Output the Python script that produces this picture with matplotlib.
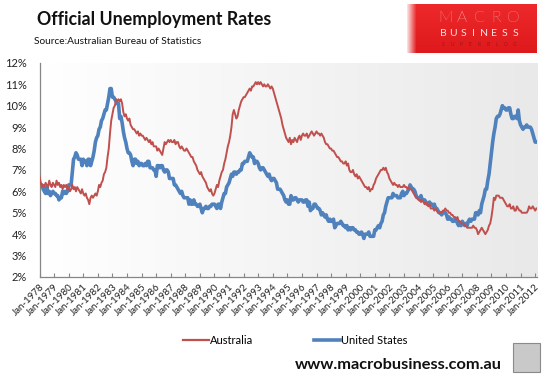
import numpy as np
import matplotlib
matplotlib.use("Agg")
import matplotlib.pyplot as plt
from matplotlib.patches import Rectangle

plt.rcParams['font.family'] = ['Lato', 'DejaVu Sans']

start_year = 1978
tick_years = list(range(1978, 2013))
tick_labels = [f"Jan-{y}" for y in tick_years]
y_ticks = list(range(2, 13))

# monthly unemployment rate, %, Jan 1978 - Feb 2012
australia = [
    6.7, 6.4, 6.2, 6.3, 6.2, 6.4, 6.3, 6.2, 6.5, 6.3, 6.2, 6.4,  # 1978
    6.3, 6.2, 6.5, 6.3, 6.4, 6.2, 6.3, 6.1, 6.3, 6.2, 6.3, 6.1,  # 1979
    6.2, 6.0, 6.1, 6.3, 6.1, 6.2, 6.0, 6.2, 6.1, 6.0, 5.9, 6.1,  # 1980
    5.9, 5.8, 5.9, 5.7, 5.6, 5.4, 5.7, 5.8, 5.7, 5.8, 5.9, 5.8,  # 1981
    6.0, 6.3, 6.2, 6.4, 6.5, 6.8, 6.9, 7.1, 7.6, 8.0, 8.7, 9.3,  # 1982
    9.6, 9.9, 10.0, 10.3, 10.2, 10.3, 10.2, 10.3, 10.1, 9.7, 9.5, 9.6,  # 1983
    9.4, 9.3, 9.4, 9.1, 9.0, 8.9, 8.9, 8.8, 8.7, 8.8, 8.6, 8.7,  # 1984
    8.6, 8.6, 8.5, 8.4, 8.5, 8.4, 8.3, 8.4, 8.2, 8.3, 8.1, 8.1,  # 1985
    8.1, 7.9, 8.0, 7.9, 7.8, 7.7, 8.0, 8.3, 8.2, 8.3, 8.4, 8.3,  # 1986
    8.4, 8.3, 8.3, 8.4, 8.2, 8.3, 8.3, 8.1, 8.0, 8.1, 8.0, 7.9,  # 1987
    7.9, 8.0, 7.9, 7.8, 7.7, 7.6, 7.6, 7.4, 7.3, 7.2, 7.0, 6.9,  # 1988
    6.8, 6.9, 6.7, 6.6, 6.5, 6.4, 6.2, 6.1, 6.0, 6.1, 5.9, 5.8,  # 1989
    5.9, 6.1, 6.3, 6.2, 6.5, 6.7, 6.9, 7.0, 7.3, 7.5, 7.8, 8.1,  # 1990
    8.3, 8.6, 9.0, 9.6, 9.8, 9.6, 9.4, 9.5, 9.8, 10.0, 10.2, 10.3,  # 1991
    10.4, 10.4, 10.5, 10.6, 10.7, 10.8, 10.7, 10.9, 10.9, 11.0, 11.1, 11.0,  # 1992
    11.1, 11.0, 11.1, 11.0, 10.9, 11.0, 10.9, 10.9, 11.0, 10.9, 10.8, 10.9,  # 1993
    10.8, 10.6, 10.4, 10.2, 10.0, 9.8, 9.6, 9.4, 9.1, 8.9, 8.7, 8.5,  # 1994
    8.4, 8.3, 8.5, 8.2, 8.4, 8.3, 8.5, 8.4, 8.3, 8.5, 8.6, 8.4,  # 1995
    8.6, 8.7, 8.6, 8.6, 8.7, 8.5, 8.6, 8.7, 8.8, 8.7, 8.6, 8.7,  # 1996
    8.8, 8.7, 8.7, 8.6, 8.7, 8.6, 8.5, 8.3, 8.2, 8.2, 8.1, 8.0,  # 1997
    8.0, 7.9, 7.9, 7.8, 7.7, 7.6, 7.6, 7.5, 7.4, 7.4, 7.3, 7.3,  # 1998
    7.4, 7.2, 7.3, 7.0, 6.9, 6.9, 7.0, 6.8, 6.7, 6.8, 6.6, 6.7,  # 1999
    6.6, 6.5, 6.4, 6.3, 6.2, 6.2, 6.1, 6.2, 6.0, 6.1, 6.1, 6.3,  # 2000
    6.4, 6.6, 6.7, 6.8, 6.9, 7.0, 7.0, 7.1, 7.0, 7.1, 6.9, 6.8,  # 2001
    6.6, 6.5, 6.4, 6.3, 6.4, 6.3, 6.3, 6.2, 6.3, 6.2, 6.2, 6.2,  # 2002
    6.3, 6.2, 6.2, 6.1, 6.2, 6.1, 6.1, 6.0, 5.9, 5.8, 5.7, 5.7,  # 2003
    5.6, 5.6, 5.5, 5.6, 5.5, 5.4, 5.5, 5.4, 5.3, 5.4, 5.2, 5.2,  # 2004
    5.2, 5.1, 5.2, 5.1, 5.0, 5.0, 5.0, 5.0, 5.1, 5.1, 5.2, 5.1,  # 2005
    5.1, 5.0, 5.0, 4.9, 4.9, 4.8, 4.8, 4.7, 4.8, 4.6, 4.6, 4.5,  # 2006
    4.5, 4.5, 4.4, 4.4, 4.3, 4.3, 4.3, 4.3, 4.3, 4.4, 4.3, 4.3,  # 2007
    4.2, 4.0, 4.1, 4.2, 4.3, 4.2, 4.1, 4.0, 4.1, 4.2, 4.4, 4.5,  # 2008
    4.8, 5.2, 5.7, 5.6, 5.8, 5.8, 5.8, 5.7, 5.7, 5.7, 5.6, 5.5,  # 2009
    5.4, 5.3, 5.3, 5.4, 5.2, 5.2, 5.3, 5.1, 5.1, 5.3, 5.2, 5.1,  # 2010
    5.1, 5.0, 5.0, 5.0, 5.0, 5.0, 5.1, 5.3, 5.2, 5.2, 5.3, 5.2,  # 2011
    5.1, 5.2,  # 2012
]

united_states = [
    6.4, 6.3, 6.3, 6.1, 6.0, 5.9, 6.2, 5.9, 6.0, 5.8, 5.9, 6.0,  # 1978
    5.9, 5.9, 5.8, 5.8, 5.6, 5.7, 5.7, 6.0, 5.9, 6.0, 5.9, 6.0,  # 1979
    6.3, 6.3, 6.3, 6.9, 7.5, 7.6, 7.8, 7.7, 7.5, 7.5, 7.5, 7.2,  # 1980
    7.5, 7.4, 7.4, 7.2, 7.5, 7.5, 7.2, 7.4, 7.6, 7.9, 8.3, 8.5,  # 1981
    8.6, 8.9, 9.0, 9.3, 9.4, 9.6, 9.8, 9.8, 10.1, 10.4, 10.8, 10.8,  # 1982
    10.4, 10.4, 10.3, 10.2, 10.1, 10.1, 9.4, 9.5, 9.2, 8.8, 8.5, 8.3,  # 1983
    8.0, 7.8, 7.8, 7.7, 7.4, 7.2, 7.5, 7.5, 7.3, 7.4, 7.2, 7.3,  # 1984
    7.3, 7.2, 7.2, 7.3, 7.2, 7.4, 7.4, 7.1, 7.1, 7.1, 7.0, 7.0,  # 1985
    6.7, 7.2, 7.2, 7.1, 7.2, 7.2, 7.0, 6.9, 7.0, 7.0, 6.9, 6.6,  # 1986
    6.6, 6.6, 6.6, 6.3, 6.3, 6.2, 6.1, 6.0, 5.9, 6.0, 5.8, 5.7,  # 1987
    5.7, 5.7, 5.7, 5.4, 5.6, 5.4, 5.4, 5.6, 5.4, 5.4, 5.3, 5.3,  # 1988
    5.4, 5.2, 5.0, 5.2, 5.2, 5.3, 5.2, 5.2, 5.3, 5.3, 5.4, 5.4,  # 1989
    5.4, 5.3, 5.2, 5.4, 5.4, 5.2, 5.5, 5.7, 5.9, 5.9, 6.2, 6.3,  # 1990
    6.4, 6.6, 6.8, 6.7, 6.9, 6.9, 6.8, 6.9, 6.9, 7.0, 7.0, 7.3,  # 1991
    7.3, 7.4, 7.4, 7.4, 7.6, 7.8, 7.7, 7.6, 7.6, 7.3, 7.4, 7.4,  # 1992
    7.3, 7.1, 7.0, 7.1, 7.1, 7.0, 6.9, 6.8, 6.7, 6.8, 6.6, 6.5,  # 1993
    6.6, 6.6, 6.5, 6.4, 6.1, 6.1, 6.1, 6.0, 5.9, 5.8, 5.6, 5.5,  # 1994
    5.6, 5.4, 5.4, 5.8, 5.6, 5.6, 5.7, 5.7, 5.6, 5.5, 5.6, 5.6,  # 1995
    5.6, 5.5, 5.5, 5.6, 5.6, 5.3, 5.5, 5.1, 5.2, 5.2, 5.4, 5.4,  # 1996
    5.3, 5.2, 5.2, 5.1, 4.9, 5.0, 4.9, 4.8, 4.9, 4.7, 4.6, 4.7,  # 1997
    4.6, 4.6, 4.7, 4.3, 4.4, 4.5, 4.5, 4.5, 4.6, 4.5, 4.4, 4.4,  # 1998
    4.3, 4.4, 4.2, 4.3, 4.2, 4.3, 4.3, 4.2, 4.2, 4.1, 4.1, 4.0,  # 1999
    4.0, 4.1, 4.0, 3.8, 4.0, 4.0, 4.0, 4.1, 3.9, 3.9, 3.9, 3.9,  # 2000
    4.2, 4.2, 4.3, 4.4, 4.3, 4.5, 4.6, 4.9, 5.0, 5.3, 5.5, 5.7,  # 2001
    5.7, 5.7, 5.7, 5.9, 5.8, 5.8, 5.8, 5.7, 5.7, 5.7, 5.9, 6.0,  # 2002
    5.8, 5.9, 5.9, 6.0, 6.1, 6.3, 6.2, 6.1, 6.1, 6.0, 5.8, 5.7,  # 2003
    5.7, 5.6, 5.8, 5.6, 5.6, 5.6, 5.5, 5.4, 5.4, 5.5, 5.4, 5.4,  # 2004
    5.3, 5.4, 5.2, 5.2, 5.1, 5.0, 5.0, 4.9, 5.0, 5.0, 5.0, 4.9,  # 2005
    4.7, 4.8, 4.7, 4.7, 4.6, 4.6, 4.7, 4.7, 4.5, 4.4, 4.5, 4.4,  # 2006
    4.6, 4.5, 4.4, 4.5, 4.4, 4.6, 4.7, 4.6, 4.7, 4.7, 4.7, 5.0,  # 2007
    5.0, 4.9, 5.1, 5.0, 5.4, 5.6, 5.8, 6.1, 6.1, 6.5, 6.8, 7.3,  # 2008
    7.8, 8.3, 8.7, 9.0, 9.4, 9.5, 9.5, 9.6, 9.8, 10.0, 9.9, 9.9,  # 2009
    9.8, 9.8, 9.9, 9.9, 9.6, 9.4, 9.4, 9.5, 9.5, 9.4, 9.8, 9.3,  # 2010
    9.1, 9.0, 8.9, 9.0, 9.0, 9.1, 9.0, 9.0, 9.0, 8.9, 8.7, 8.5,  # 2011
    8.3, 8.3,  # 2012
]

x = start_year + np.arange(len(australia)) / 12.0

fig = plt.figure(figsize=(5.49, 3.81), dpi=100)
ax = fig.add_axes([0.072, 0.273, 0.906, 0.562])

# plot area gradient: white -> light grey
grad = np.linspace(0, 1, 256).reshape(1, -1)
ax.imshow(grad, extent=[0, 1, 0, 1], transform=ax.transAxes, aspect='auto',
          cmap=matplotlib.colors.LinearSegmentedColormap.from_list('bg', ['#ffffff', '#e9e9e9']),
          zorder=0)

ax.plot(x, australia, color='#C0504D', lw=1.4, zorder=3)
ax.plot(x, united_states, color='#4F81BD', lw=2.6, zorder=2)

ax.set_xlim(1978, 2012.12)
ax.set_ylim(2, 12)
ax.set_yticks(y_ticks)
ax.set_yticklabels([f"{v}%" for v in y_ticks])
ax.set_xticks(tick_years)
ax.set_xticklabels(tick_labels, rotation=45, ha='right', rotation_mode='anchor')

for s in ['top', 'right']:
    ax.spines[s].set_visible(False)
for s in ['left', 'bottom']:
    ax.spines[s].set_color('#868686')
    ax.spines[s].set_linewidth(0.9)

ax.tick_params(axis='y', length=0, pad=9, labelsize=8, labelcolor='#222222')
ax.tick_params(axis='x', direction='in', length=3, color='#868686', width=0.8,
               pad=4, labelsize=7, labelcolor='#222222')

# titles
fig.text(37 / 549, 1 - 20 / 381, "Official Unemployment Rates", fontsize=12.8,
         fontweight='bold', va='center', ha='left', color='#111111')
fig.text(34 / 549, 1 - 41 / 381, "Source:Australian Bureau of Statistics", fontsize=7.3,
         va='center', ha='left', color='#111111')

# logo box
lax = fig.add_axes([407 / 549, 1 - 53 / 381, 130 / 549, 49 / 381])
rows = np.linspace(0, 1, 50)[:, None]
cols = np.linspace(0, 1, 130)[None, :]
img = np.zeros((50, 130, 3))
img[..., 0] = 0.93 - 0.06 * rows
img[..., 1] = 0.16 - 0.06 * rows
img[..., 2] = 0.17 - 0.06 * rows
fade = np.clip(1 - cols * 130 / 9, 0, 1)
img = img * (1 - fade[..., None] * 0.85) + fade[..., None] * 0.85
lax.imshow(img, aspect='auto', extent=[0, 1, 0, 1])
lax.axis('off')

for i, ch in enumerate("MACRO"):
    fig.text((445 + i * 17.0) / 549, 1 - 18 / 381, ch, fontsize=11.5, color='white',
             ha='center', va='center', fontweight='light')
for i, ch in enumerate("BUSINESS"):
    fig.text((443 + i * 10.3) / 549, 1 - 33 / 381, ch, fontsize=7.5, color='#fbe0e0',
             ha='center', va='center')
for i, ch in enumerate("SUPERBLOG"):
    fig.text((443 + i * 9.0) / 549, 1 - 44 / 381, ch, fontsize=3.5, color='#a01418',
             ha='center', va='center')

# legend
leg = fig.legend([plt.Line2D([], [], color='#C0504D', lw=1.6),
                  plt.Line2D([], [], color='#4F81BD', lw=2.6)],
                 ['Australia', 'United States'], ncol=2, frameon=False,
                 loc='center', bbox_to_anchor=(295 / 549, 1 - 340 / 381),
                 fontsize=8, handlelength=2.3, handletextpad=0.1, columnspacing=5.5)

fig.text(295 / 549, 1 - 365 / 381, "www.macrobusiness.com.au", fontsize=11.8,
         fontweight='bold', va='center', ha='left', color='#111111')

# wolf badge
fig.patches.append(Rectangle((513 / 549, 1 - 372 / 381), 27 / 549, 29 / 381,
                             transform=fig.transFigure, facecolor='#c9c9c9',
                             edgecolor='#8a8a8a', lw=0.8))

fig.savefig("out.png", dpi=100)
